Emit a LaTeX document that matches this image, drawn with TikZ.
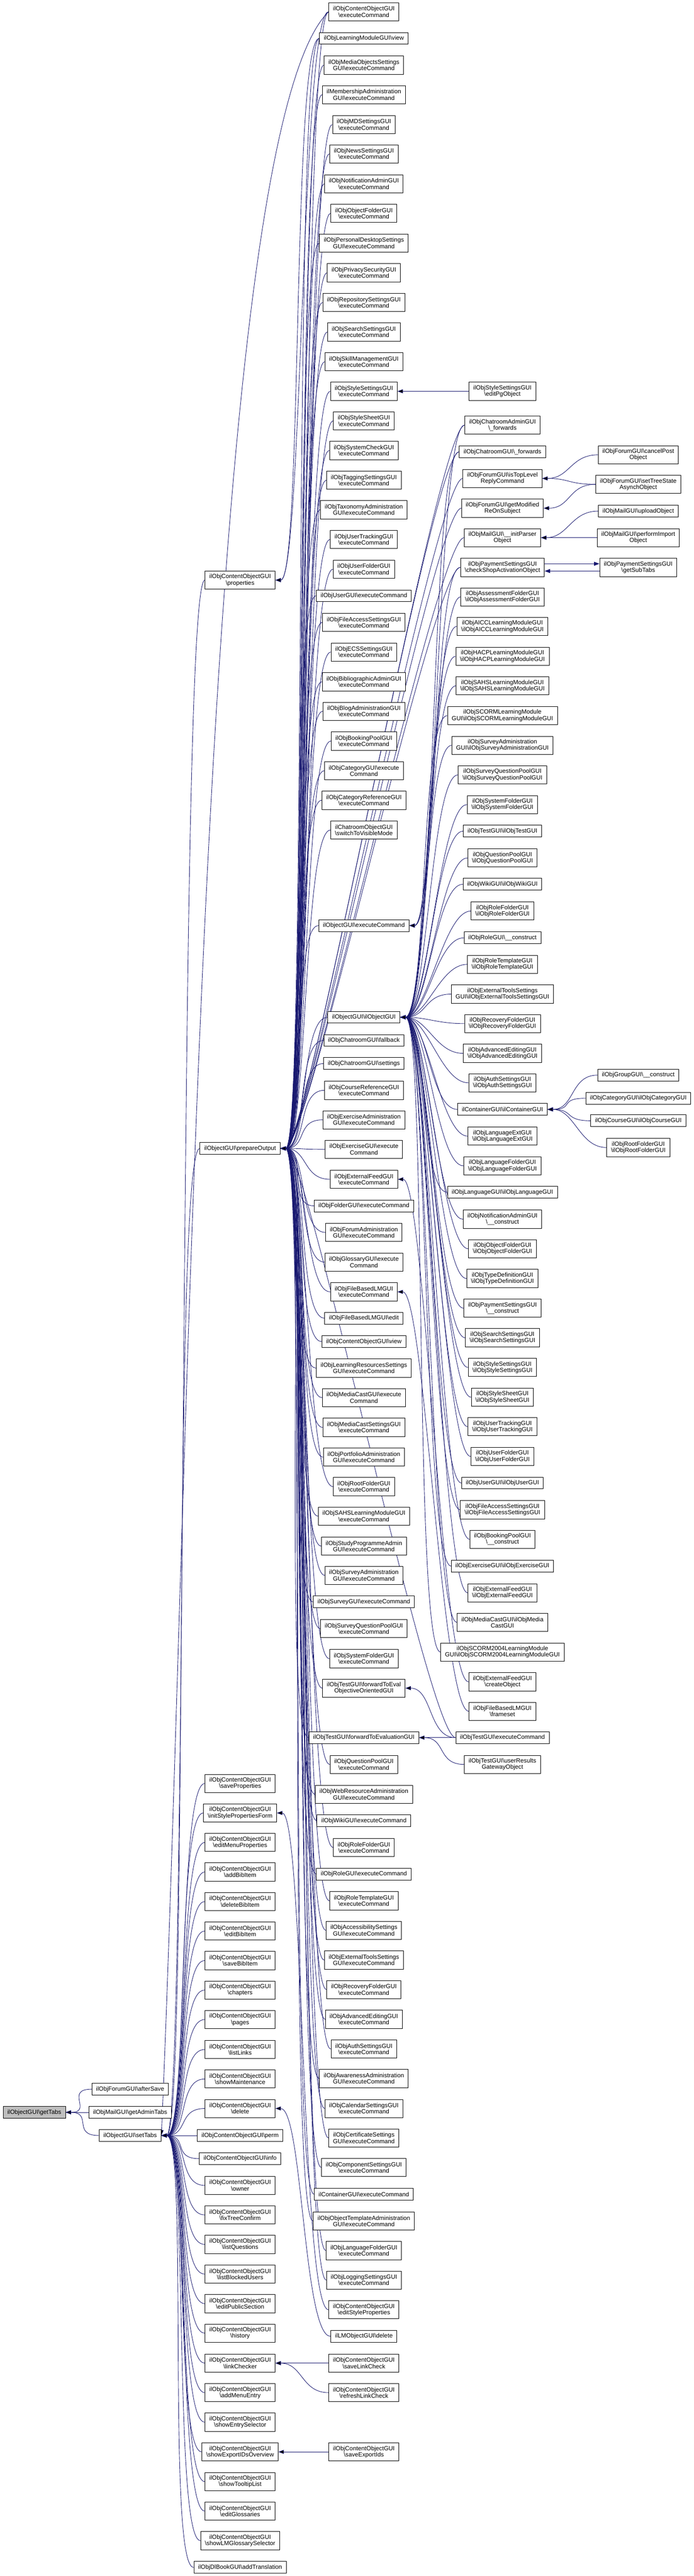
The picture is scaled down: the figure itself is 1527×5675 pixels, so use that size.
\documentclass[tikz,border=0pt]{standalone}
\usepackage{fontspec}
\setmainfont{Liberation Sans}
\usetikzlibrary{arrows.meta}
\definecolor{edgeblue}{HTML}{191970}
\definecolor{rootgray}{HTML}{BFBFBF}
\newcommand{\bsl}{\textbackslash}
\pgfdeclarelayer{edges}
\pgfsetlayers{edges,main}

\begin{document}
\begin{tikzpicture}[x=0.75pt,y=-0.75pt,
    fn/.style={draw=black,fill=white,line width=0.75pt,align=center,inner xsep=7pt,inner ysep=0pt,minimum height=19.5pt,font=\fontsize{10}{10.4}\selectfont},
    fn2/.style={fn,minimum height=30pt},
    rootfn/.style={fn,fill=rootgray},
    callline/.style={draw=edgeblue,line width=0.75pt,{Triangle[length=9pt,width=6.5pt]}-,
        to path={(\tikztostart.east) .. controls +(60,0) and +(-60,0) .. (\tikztotarget.west)}}]
    \useasboundingbox (0,0) rectangle (1527,5675);

    \node[rootfn] (gettabs) at (75.5,4653.5) {ilObjectGUI\bsl getTabs};
    \node[fn] (aftersave) at (286.5,4602.5) {ilObjForumGUI\bsl afterSave};
    \node[fn] (getadmintabs) at (286.5,4653.5) {ilObjMailGUI\bsl getAdminTabs};
    \node[fn] (settabs) at (286.5,4704.5) {ilObjectGUI\bsl setTabs};

    \node[fn2] (properties) at (528.5,1278) {ilObjContentObjectGUI\\\bsl properties};
    \node[fn] (prepareoutput) at (528.5,2530) {ilObjectGUI\bsl prepareOutput};
    \node[fn2] (saveprop) at (528.5,3929) {ilObjContentObjectGUI\\\bsl saveProperties};
    \node[fn2] (initstyle) at (528.5,3994) {ilObjContentObjectGUI\\\bsl initStylePropertiesForm};
    \node[fn2] (editmenu) at (528.5,4059) {ilObjContentObjectGUI\\\bsl editMenuProperties};
    \node[fn2] (addbib) at (528.5,4124) {ilObjContentObjectGUI\\\bsl addBibItem};
    \node[fn2] (delbib) at (528.5,4189) {ilObjContentObjectGUI\\\bsl deleteBibItem};
    \node[fn2] (editbib) at (528.5,4254) {ilObjContentObjectGUI\\\bsl editBibItem};
    \node[fn2] (savebib) at (528.5,4319) {ilObjContentObjectGUI\\\bsl saveBibItem};
    \node[fn2] (chapters) at (528.5,4384) {ilObjContentObjectGUI\\\bsl chapters};
    \node[fn2] (pages) at (528.5,4449) {ilObjContentObjectGUI\\\bsl pages};
    \node[fn2] (listlinks) at (528.5,4515) {ilObjContentObjectGUI\\\bsl listLinks};
    \node[fn2] (showmaint) at (528.5,4580) {ilObjContentObjectGUI\\\bsl showMaintenance};
    \node[fn2] (cdelete) at (528.5,4645) {ilObjContentObjectGUI\\\bsl delete};
    \node[fn] (perm) at (528.5,4704.5) {ilObjContentObjectGUI\bsl perm};
    \node[fn] (info) at (528.5,4755.5) {ilObjContentObjectGUI\bsl info};
    \node[fn2] (owner) at (528.5,4814.5) {ilObjContentObjectGUI\\\bsl owner};
    \node[fn2] (fixtree) at (528.5,4879.5) {ilObjContentObjectGUI\\\bsl fixTreeConfirm};
    \node[fn2] (listq) at (528.5,4944.5) {ilObjContentObjectGUI\\\bsl listQuestions};
    \node[fn2] (listblocked) at (528.5,5010) {ilObjContentObjectGUI\\\bsl listBlockedUsers};
    \node[fn2] (editpublic) at (528.5,5075) {ilObjContentObjectGUI\\\bsl editPublicSection};
    \node[fn2] (history) at (528.5,5140) {ilObjContentObjectGUI\\\bsl history};
    \node[fn2] (linkchecker) at (528.5,5206) {ilObjContentObjectGUI\\\bsl linkChecker};
    \node[fn2] (addmenuentry) at (528.5,5271) {ilObjContentObjectGUI\\\bsl addMenuEntry};
    \node[fn2] (showentry) at (528.5,5336) {ilObjContentObjectGUI\\\bsl showEntrySelector};
    \node[fn2] (showexport) at (528.5,5401.5) {ilObjContentObjectGUI\\\bsl showExportIDsOverview};
    \node[fn2] (showtooltip) at (528.5,5467) {ilObjContentObjectGUI\\\bsl showTooltipList};
    \node[fn2] (editgloss) at (528.5,5532) {ilObjContentObjectGUI\\\bsl editGlossaries};
    \node[fn2] (showlmgloss) at (528.5,5597) {ilObjContentObjectGUI\\\bsl showLMGlossarySelector};
    \node[fn] (addtrans) at (528.5,5656) {ilObjDlBookGUI\bsl addTranslation};

    \node[fn2] (c1) at (801,26) {ilObjContentObjectGUI\\\bsl executeCommand};
    \node[fn] (c2) at (801,84.5) {ilObjLearningModuleGUI\bsl view};
    \node[fn2] (c3) at (801,143.5) {ilObjMediaObjectsSettings\\GUI\bsl executeCommand};
    \node[fn2] (c4) at (801,208.5) {ilMembershipAdministration\\GUI\bsl executeCommand};
    \node[fn2] (c5) at (801,274.5) {ilObjMDSettingsGUI\\\bsl executeCommand};
    \node[fn2] (c6) at (801,339) {ilObjNewsSettingsGUI\\\bsl executeCommand};
    \node[fn2] (c7) at (801,405) {ilObjNotificationAdminGUI\\\bsl executeCommand};
    \node[fn2] (c8) at (801,470) {ilObjObjectFolderGUI\\\bsl executeCommand};
    \node[fn2] (c9) at (801,535.5) {ilObjPersonalDesktopSettings\\GUI\bsl executeCommand};
    \node[fn2] (c10) at (801,601) {ilObjPrivacySecurityGUI\\\bsl executeCommand};
    \node[fn2] (c11) at (801,666.5) {ilObjRepositorySettingsGUI\\\bsl executeCommand};
    \node[fn2] (c12) at (801,731.5) {ilObjSearchSettingsGUI\\\bsl executeCommand};
    \node[fn2] (c13) at (801,797) {ilObjSkillManagementGUI\\\bsl executeCommand};
    \node[fn2] (c14) at (801,862) {ilObjStyleSettingsGUI\\\bsl executeCommand};
    \node[fn2] (c15) at (801,927) {ilObjStyleSheetGUI\\\bsl executeCommand};
    \node[fn2] (c16) at (801,992.5) {ilObjSystemCheckGUI\\\bsl executeCommand};
    \node[fn2] (c17) at (801,1058) {ilObjTaggingSettingsGUI\\\bsl executeCommand};
    \node[fn2] (c18) at (801,1123) {ilObjTaxonomyAdministration\\GUI\bsl executeCommand};
    \node[fn2] (c19) at (801,1188.5) {ilObjUserTrackingGUI\\\bsl executeCommand};
    \node[fn2] (c20) at (801,1254) {ilObjUserFolderGUI\\\bsl executeCommand};
    \node[fn] (c21) at (801,1312.5) {ilObjUserGUI\bsl executeCommand};
    \node[fn2] (c22) at (801,1371) {ilObjFileAccessSettingsGUI\\\bsl executeCommand};
    \node[fn2] (c23) at (801,1436.5) {ilObjECSSettingsGUI\\\bsl executeCommand};
    \node[fn2] (c24) at (801,1502) {ilObjBibliographicAdminGUI\\\bsl executeCommand};
    \node[fn2] (c25) at (801,1567) {ilObjBlogAdministrationGUI\\\bsl executeCommand};
    \node[fn2] (c26) at (801,1632.5) {ilObjBookingPoolGUI\\\bsl executeCommand};
    \node[fn2] (c27) at (801,1698) {ilObjCategoryGUI\bsl execute\\Command};
    \node[fn2] (c28) at (801,1763) {ilObjCategoryReferenceGUI\\\bsl executeCommand};
    \node[fn2] (c29) at (801,1828.5) {ilChatroomObjectGUI\\\bsl switchToVisibleMode};
    \node[fn] (c30) at (801,2039) {ilObjectGUI\bsl executeCommand};
    \node[fn] (c31) at (801,2241) {ilObjectGUI\bsl ilObjectGUI};
    \node[fn] (c32) at (801,2292) {ilObjChatroomGUI\bsl fallback};
    \node[fn] (c33) at (801,2343) {ilObjChatroomGUI\bsl settings};
    \node[fn2] (c34) at (801,2402) {ilObjCourseReferenceGUI\\\bsl executeCommand};
    \node[fn2] (c35) at (801,2467) {ilObjExerciseAdministration\\GUI\bsl executeCommand};
    \node[fn2] (c36) at (801,2532) {ilObjExerciseGUI\bsl execute\\Command};
    \node[fn2] (c37) at (801,2598) {ilObjExternalFeedGUI\\\bsl executeCommand};
    \node[fn] (c38) at (801,2656.5) {ilObjFolderGUI\bsl executeCommand};
    \node[fn2] (c39) at (801,2715) {ilObjForumAdministration\\GUI\bsl executeCommand};
    \node[fn2] (c40) at (801,2780.5) {ilObjGlossaryGUI\bsl execute\\Command};
    \node[fn2] (c41) at (801,2846) {ilObjFileBasedLMGUI\\\bsl executeCommand};
    \node[fn] (c42) at (801,2904) {ilObjFileBasedLMGUI\bsl edit};
    \node[fn] (c43) at (801,2955.5) {ilObjContentObjectGUI\bsl view};
    \node[fn2] (c44) at (801,3014) {ilObjLearningResourcesSettings\\GUI\bsl executeCommand};
    \node[fn2] (c45) at (801,3079) {ilObjMediaCastGUI\bsl execute\\Command};
    \node[fn2] (c46) at (801,3144.5) {ilObjMediaCastSettingsGUI\\\bsl executeCommand};
    \node[fn2] (c47) at (801,3210) {ilObjPortfolioAdministration\\GUI\bsl executeCommand};
    \node[fn2] (c48) at (801,3275) {ilObjRootFolderGUI\\\bsl executeCommand};
    \node[fn2] (c49) at (801,3340) {ilObjSAHSLearningModuleGUI\\\bsl executeCommand};
    \node[fn2] (c50) at (801,3406) {ilObjStudyProgrammeAdmin\\GUI\bsl executeCommand};
    \node[fn2] (c51) at (801,3470.5) {ilObjSurveyAdministration\\GUI\bsl executeCommand};
    \node[fn] (c52) at (801,3529) {ilObjSurveyGUI\bsl executeCommand};
    \node[fn2] (c53) at (801,3588) {ilObjSurveyQuestionPoolGUI\\\bsl executeCommand};
    \node[fn2] (c54) at (801,3654) {ilObjSystemFolderGUI\\\bsl executeCommand};
    \node[fn2] (c55) at (801,3719) {ilObjTestGUI\bsl forwardToEval\\ObjectiveOrientedGUI};
    \node[fn] (c56) at (801,3828) {ilObjTestGUI\bsl forwardToEvaluationGUI};
    \node[fn2] (c57) at (801,3887) {ilObjQuestionPoolGUI\\\bsl executeCommand};
    \node[fn2] (c58) at (801,3953) {ilObjWebResourceAdministration\\GUI\bsl executeCommand};
    \node[fn] (c59) at (801,4011) {ilObjWikiGUI\bsl executeCommand};
    \node[fn2] (c60) at (801,4070) {ilObjRoleFolderGUI\\\bsl executeCommand};
    \node[fn] (c61) at (801,4128.5) {ilObjRoleGUI\bsl executeCommand};
    \node[fn2] (c62) at (801,4187.5) {ilObjRoleTemplateGUI\\\bsl executeCommand};
    \node[fn2] (c63) at (801,4252.5) {ilObjAccessibilitySettings\\GUI\bsl executeCommand};
    \node[fn2] (c64) at (801,4318) {ilObjExternalToolsSettings\\GUI\bsl executeCommand};
    \node[fn2] (c65) at (801,4383) {ilObjRecoveryFolderGUI\\\bsl executeCommand};
    \node[fn2] (c66) at (801,4448.5) {ilObjAdvancedEditingGUI\\\bsl executeCommand};
    \node[fn2] (c67) at (801,4514) {ilObjAuthSettingsGUI\\\bsl executeCommand};
    \node[fn2] (c68) at (801,4579) {ilObjAwarenessAdministration\\GUI\bsl executeCommand};
    \node[fn2] (c69) at (801,4645) {ilObjCalendarSettingsGUI\\\bsl executeCommand};
    \node[fn2] (c70) at (801,4710) {ilObjCertificateSettings\\GUI\bsl executeCommand};
    \node[fn2] (c71) at (801,4775) {ilObjComponentSettingsGUI\\\bsl executeCommand};
    \node[fn] (c72) at (801,4834) {ilContainerGUI\bsl executeCommand};
    \node[fn2] (c73) at (801,4893) {ilObjObjectTemplateAdministration\\GUI\bsl executeCommand};
    \node[fn2] (c74) at (801,4958) {ilObjLanguageFolderGUI\\\bsl executeCommand};
    \node[fn2] (c75) at (801,5023) {ilObjLoggingSettingsGUI\\\bsl executeCommand};
    \node[fn2] (c76) at (801,5088.5) {ilObjContentObjectGUI\\\bsl editStyleProperties};
    \node[fn] (c77) at (801,5147) {ilLMObjectGUI\bsl delete};
    \node[fn2] (c78) at (801,5206) {ilObjContentObjectGUI\\\bsl saveLinkCheck};
    \node[fn2] (c79) at (801,5271) {ilObjContentObjectGUI\\\bsl refreshLinkCheck};
    \node[fn2] (c80) at (801,5401.5) {ilObjContentObjectGUI\\\bsl saveExportIds};

    \node[fn2] (d1) at (1106,862) {ilObjStyleSettingsGUI\\\bsl editPgObject};
    \node[fn2] (d2) at (1106,936.5) {ilObjChatroomAdminGUI\\\bsl\_forwards};
    \node[fn] (d3) at (1106,995.5) {ilObjChatroomGUI\bsl\_forwards};
    \node[fn2] (d4) at (1106,1054) {ilObjForumGUI\bsl isTopLevel\\ReplyCommand};
    \node[fn2] (d5) at (1106,1119.5) {ilObjForumGUI\bsl getModified\\ReOnSubject};
    \node[fn2] (d6) at (1106,1184.5) {ilObjMailGUI\bsl\_\_initParser\\Object};
    \node[fn2] (d7) at (1106,1250) {ilObjPaymentSettingsGUI\\\bsl checkShopActivationObject};
    \node[fn2] (d8) at (1106,1315) {ilObjAssessmentFolderGUI\\\bsl ilObjAssessmentFolderGUI};
    \node[fn2] (d9) at (1106,1380) {ilObjAICCLearningModuleGUI\\\bsl ilObjAICCLearningModuleGUI};
    \node[fn2] (d10) at (1106,1446) {ilObjHACPLearningModuleGUI\\\bsl ilObjHACPLearningModuleGUI};
    \node[fn2] (d11) at (1106,1511) {ilObjSAHSLearningModuleGUI\\\bsl ilObjSAHSLearningModuleGUI};
    \node[fn2] (d12) at (1106,1576.5) {ilObjSCORMLearningModule\\GUI\bsl ilObjSCORMLearningModuleGUI};
    \node[fn2] (d13) at (1106,1642) {ilObjSurveyAdministration\\GUI\bsl ilObjSurveyAdministrationGUI};
    \node[fn2] (d14) at (1106,1707) {ilObjSurveyQuestionPoolGUI\\\bsl ilObjSurveyQuestionPoolGUI};
    \node[fn2] (d15) at (1106,1772.5) {ilObjSystemFolderGUI\\\bsl ilObjSystemFolderGUI};
    \node[fn] (d16) at (1106,1831) {ilObjTestGUI\bsl ilObjTestGUI};
    \node[fn2] (d17) at (1106,1890) {ilObjQuestionPoolGUI\\\bsl ilObjQuestionPoolGUI};
    \node[fn] (d18) at (1106,1948) {ilObjWikiGUI\bsl ilObjWikiGUI};
    \node[fn2] (d19) at (1106,2007) {ilObjRoleFolderGUI\\\bsl ilObjRoleFolderGUI};
    \node[fn] (d20) at (1106,2066) {ilObjRoleGUI\bsl\_\_construct};
    \node[fn2] (d21) at (1106,2124.5) {ilObjRoleTemplateGUI\\\bsl ilObjRoleTemplateGUI};
    \node[fn2] (d22) at (1106,2190) {ilObjExternalToolsSettings\\GUI\bsl ilObjExternalToolsSettingsGUI};
    \node[fn2] (d23) at (1106,2255) {ilObjRecoveryFolderGUI\\\bsl ilObjRecoveryFolderGUI};
    \node[fn2] (d24) at (1106,2320.5) {ilObjAdvancedEditingGUI\\\bsl ilObjAdvancedEditingGUI};
    \node[fn2] (d25) at (1106,2385.5) {ilObjAuthSettingsGUI\\\bsl ilObjAuthSettingsGUI};
    \node[fn] (d26) at (1106,2444) {ilContainerGUI\bsl ilContainerGUI};
    \node[fn2] (d27) at (1106,2503) {ilObjLanguageExtGUI\\\bsl ilObjLanguageExtGUI};
    \node[fn2] (d28) at (1106,2568.5) {ilObjLanguageFolderGUI\\\bsl ilObjLanguageFolderGUI};
    \node[fn] (d29) at (1106,2626.5) {ilObjLanguageGUI\bsl ilObjLanguageGUI};
    \node[fn2] (d30) at (1106,2686) {ilObjNotificationAdminGUI\\\bsl\_\_construct};
    \node[fn2] (d31) at (1106,2751) {ilObjObjectFolderGUI\\\bsl ilObjObjectFolderGUI};
    \node[fn2] (d32) at (1106,2816.5) {ilObjTypeDefinitionGUI\\\bsl ilObjTypeDefinitionGUI};
    \node[fn2] (d33) at (1106,2882) {ilObjPaymentSettingsGUI\\\bsl\_\_construct};
    \node[fn2] (d34) at (1106,2947) {ilObjSearchSettingsGUI\\\bsl ilObjSearchSettingsGUI};
    \node[fn2] (d35) at (1106,3012.5) {ilObjStyleSettingsGUI\\\bsl ilObjStyleSettingsGUI};
    \node[fn2] (d36) at (1106,3078) {ilObjStyleSheetGUI\\\bsl ilObjStyleSheetGUI};
    \node[fn2] (d37) at (1106,3143) {ilObjUserTrackingGUI\\\bsl ilObjUserTrackingGUI};
    \node[fn2] (d38) at (1106,3208.5) {ilObjUserFolderGUI\\\bsl ilObjUserFolderGUI};
    \node[fn] (d39) at (1106,3267) {ilObjUserGUI\bsl ilObjUserGUI};
    \node[fn2] (d40) at (1106,3326) {ilObjFileAccessSettingsGUI\\\bsl ilObjFileAccessSettingsGUI};
    \node[fn2] (d41) at (1106,3391) {ilObjBookingPoolGUI\\\bsl\_\_construct};
    \node[fn] (d42) at (1106,3450) {ilObjExerciseGUI\bsl ilObjExerciseGUI};
    \node[fn2] (d43) at (1106,3509) {ilObjExternalFeedGUI\\\bsl ilObjExternalFeedGUI};
    \node[fn2] (d44) at (1106,3574) {ilObjMediaCastGUI\bsl ilObjMedia\\CastGUI};
    \node[fn2] (d45) at (1106,3639.5) {ilObjSCORM2004LearningModule\\GUI\bsl ilObjSCORM2004LearningModuleGUI};
    \node[fn2] (d46) at (1106,3705) {ilObjExternalFeedGUI\\\bsl createObject};
    \node[fn2] (d47) at (1106,3770) {ilObjFileBasedLMGUI\\\bsl frameset};
    \node[fn] (d48) at (1106,3828) {ilObjTestGUI\bsl executeCommand};
    \node[fn2] (d49) at (1106,3887) {ilObjTestGUI\bsl userResults\\GatewayObject};

    \node[fn2] (e1) at (1405,1002) {ilObjForumGUI\bsl cancelPost\\Object};
    \node[fn2] (e2) at (1405,1067) {ilObjForumGUI\bsl setTreeState\\AsynchObject};
    \node[fn] (e3) at (1405,1126) {ilObjMailGUI\bsl uploadObject};
    \node[fn2] (e4) at (1405,1184.5) {ilObjMailGUI\bsl performImport\\Object};
    \node[fn2] (e5) at (1405,1250) {ilObjPaymentSettingsGUI\\\bsl getSubTabs};
    \node[fn] (e6) at (1405,2368.5) {ilObjGroupGUI\bsl\_\_construct};
    \node[fn] (e7) at (1405,2419.5) {ilObjCategoryGUI\bsl ilObjCategoryGUI};
    \node[fn] (e8) at (1405,2469) {ilObjCourseGUI\bsl ilObjCourseGUI};
    \node[fn2] (e9) at (1405,2528) {ilObjRootFolderGUI\\\bsl ilObjRootFolderGUI};

    \begin{pgfonlayer}{edges}
    \path[callline]
        (gettabs) edge (aftersave) (gettabs) edge (getadmintabs) (gettabs) edge (settabs)
        (settabs) edge (properties) (settabs) edge (prepareoutput)
        (settabs) edge (saveprop) (settabs) edge (initstyle) (settabs) edge (editmenu)
        (settabs) edge (addbib) (settabs) edge (delbib) (settabs) edge (editbib)
        (settabs) edge (savebib) (settabs) edge (chapters) (settabs) edge (pages)
        (settabs) edge (listlinks) (settabs) edge (showmaint) (settabs) edge (cdelete)
        (settabs) edge (perm) (settabs) edge (info) (settabs) edge (owner)
        (settabs) edge (fixtree) (settabs) edge (listq) (settabs) edge (listblocked)
        (settabs) edge (editpublic) (settabs) edge (history) (settabs) edge (linkchecker)
        (settabs) edge (addmenuentry) (settabs) edge (showentry) (settabs) edge (showexport)
        (settabs) edge (showtooltip) (settabs) edge (editgloss) (settabs) edge (showlmgloss)
        (settabs) edge (addtrans)
        (properties) edge (c1) (properties) edge (c2)
        (prepareoutput) edge (c1) (prepareoutput) edge (c2) (prepareoutput) edge (c3)
        (prepareoutput) edge (c4) (prepareoutput) edge (c5) (prepareoutput) edge (c6)
        (prepareoutput) edge (c7) (prepareoutput) edge (c8) (prepareoutput) edge (c9)
        (prepareoutput) edge (c10) (prepareoutput) edge (c11) (prepareoutput) edge (c12)
        (prepareoutput) edge (c13) (prepareoutput) edge (c14) (prepareoutput) edge (c15)
        (prepareoutput) edge (c16) (prepareoutput) edge (c17) (prepareoutput) edge (c18)
        (prepareoutput) edge (c19) (prepareoutput) edge (c20) (prepareoutput) edge (c21)
        (prepareoutput) edge (c22) (prepareoutput) edge (c23) (prepareoutput) edge (c24)
        (prepareoutput) edge (c25) (prepareoutput) edge (c26) (prepareoutput) edge (c27)
        (prepareoutput) edge (c28) (prepareoutput) edge (c29) (prepareoutput) edge (c30)
        (prepareoutput) edge (c31) (prepareoutput) edge (c32) (prepareoutput) edge (c33)
        (prepareoutput) edge (c34) (prepareoutput) edge (c35) (prepareoutput) edge (c36)
        (prepareoutput) edge (c37) (prepareoutput) edge (c38) (prepareoutput) edge (c39)
        (prepareoutput) edge (c40) (prepareoutput) edge (c41) (prepareoutput) edge (c42)
        (prepareoutput) edge (c43) (prepareoutput) edge (c44) (prepareoutput) edge (c45)
        (prepareoutput) edge (c46) (prepareoutput) edge (c47) (prepareoutput) edge (c48)
        (prepareoutput) edge (c49) (prepareoutput) edge (c50) (prepareoutput) edge (c51)
        (prepareoutput) edge (c52) (prepareoutput) edge (c53) (prepareoutput) edge (c54)
        (prepareoutput) edge (c55) (prepareoutput) edge (c56) (prepareoutput) edge (c57)
        (prepareoutput) edge (c58) (prepareoutput) edge (c59) (prepareoutput) edge (c60)
        (prepareoutput) edge (c61) (prepareoutput) edge (c62) (prepareoutput) edge (c63)
        (prepareoutput) edge (c64) (prepareoutput) edge (c65) (prepareoutput) edge (c66)
        (prepareoutput) edge (c67) (prepareoutput) edge (c68) (prepareoutput) edge (c69)
        (prepareoutput) edge (c70) (prepareoutput) edge (c71) (prepareoutput) edge (c72)
        (prepareoutput) edge (c73) (prepareoutput) edge (c74) (prepareoutput) edge (c75)
        (prepareoutput) edge (d2) (prepareoutput) edge (d3) (prepareoutput) edge (d4)
        (prepareoutput) edge (d5) (prepareoutput) edge (d6) (prepareoutput) edge (d7)
        (prepareoutput) edge (d48)
        (initstyle) edge (c76) (cdelete) edge (c77)
        (linkchecker) edge (c78) (linkchecker) edge (c79) (showexport) edge (c80)
        (c14) edge (d1)
        (c30) edge (d2) (c30) edge (d3) (c30) edge (d7)
        (c31) edge (d8) (c31) edge (d9) (c31) edge (d10) (c31) edge (d11)
        (c31) edge (d12) (c31) edge (d13) (c31) edge (d14) (c31) edge (d15)
        (c31) edge (d16) (c31) edge (d17) (c31) edge (d18) (c31) edge (d19)
        (c31) edge (d20) (c31) edge (d21) (c31) edge (d22) (c31) edge (d23)
        (c31) edge (d24) (c31) edge (d25) (c31) edge (d26) (c31) edge (d27)
        (c31) edge (d28) (c31) edge (d29) (c31) edge (d30) (c31) edge (d31)
        (c31) edge (d32) (c31) edge (d33) (c31) edge (d34) (c31) edge (d35)
        (c31) edge (d36) (c31) edge (d37) (c31) edge (d38) (c31) edge (d39)
        (c31) edge (d40) (c31) edge (d41) (c31) edge (d42) (c31) edge (d43)
        (c31) edge (d44) (c31) edge (d45)
        (c37) edge (d46) (c41) edge (d47)
        (c55) edge (d48) (c56) edge (d48) (c56) edge (d49)
        (d4) edge (e1) (d4) edge (e2) (d5) edge (e2)
        (d6) edge (e3) (d6) edge (e4)
        (d26) edge (e6) (d26) edge (e7) (d26) edge (e8) (d26) edge (e9)
        (settabs) edge[to path={(\tikztostart.east) .. controls (420,3200) and (440,300) .. (\tikztotarget.west)}] (c1)
        ;
    \draw[draw=edgeblue,line width=0.75pt,-{Triangle[length=9pt,width=6.5pt]}] ([yshift=6pt]d7.east) -- ([yshift=6pt]e5.west);
    \draw[draw=edgeblue,line width=0.75pt,{Triangle[length=9pt,width=6.5pt]}-] ([yshift=-6pt]d7.east) -- ([yshift=-6pt]e5.west);
    \end{pgfonlayer}
\end{tikzpicture}
\end{document}
